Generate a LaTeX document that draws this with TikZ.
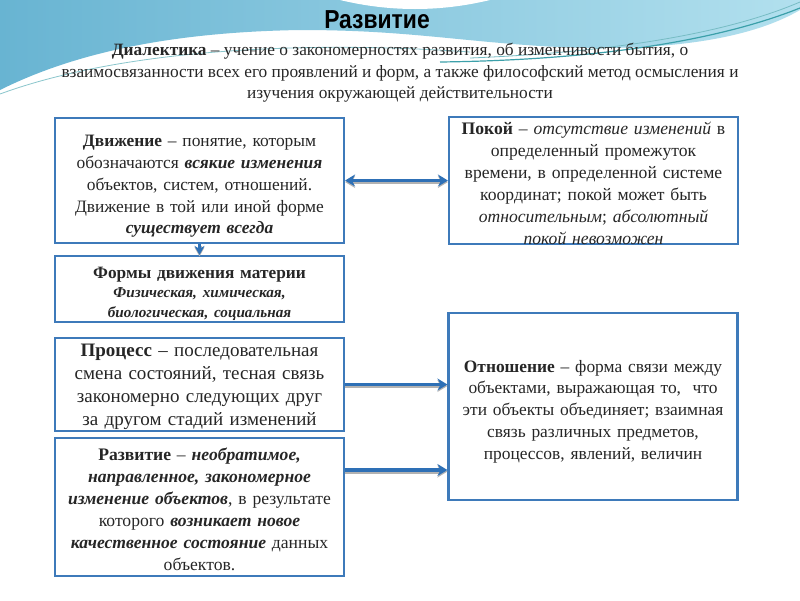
\documentclass[tikz,border=0pt]{standalone}
\usepackage{fontspec}
\setmainfont{Liberation Serif}
\newfontfamily\titlefont{Liberation Sans}
\usepackage{graphicx}
\usepackage{tikz}
\usetikzlibrary{arrows.meta, positioning, calc}
\usepackage{xcolor}
\definecolor{boxblue}{RGB}{62,122,186}
\definecolor{arrblue}{RGB}{46,112,182}
\definecolor{skyA}{RGB}{104,180,210}
\definecolor{skyB}{RGB}{178,224,238}
\definecolor{swoosh}{RGB}{60,160,170}

\begin{document}
\begin{tikzpicture}[
  x=1pt, y=-1pt,
  every node/.style={font=\fontsize{17.4}{21.8}\selectfont, text=black!85},
  box/.style={rectangle, draw=boxblue, line width=2.2pt, fill=white, minimum width=289pt},
  boxtext/.style={text width=283pt, align=center, inner sep=0pt},
  link/.style={draw=arrblue, line width=3.5pt, -{Stealth[length=10pt, width=12pt]},
               preaction={draw=black!30, line width=4pt, transform canvas={yshift=-1.5pt}}}
]
  \useasboundingbox (0,0) rectangle (800,600);
  \fill[white] (0,0) rectangle (800,600);
  % background swoosh
  \shade[left color=skyA, right color=skyB] (0,0) -- (800,0) -- (800,10)
    .. controls (740,45) and (640,52) .. (540,46)
    .. controls (450,40) and (400,30) .. (300,30)
    .. controls (180,32) and (80,50) .. (0,90) -- cycle;
  \fill[white] (340,0) .. controls (390,12) and (440,12) .. (490,0) -- cycle;
  \draw[swoosh!60, line width=0.8pt] (0,94) .. controls (120,50) and (300,40) .. (470,52);
  \draw[swoosh, line width=1.2pt] (440,62) .. controls (600,60) and (720,40) .. (800,8);
  \draw[swoosh!70, line width=0.8pt] (470,58) .. controls (620,52) and (730,32) .. (800,2);

  \node[font=\titlefont\bfseries\fontsize{26}{30}\selectfont, text=black] (title) at (377,20) {\scalebox{0.88}[1]{Развитие}};
  \node[align=center, font=\fontsize{17.3}{21.5}\selectfont] (intro) at (400,73)
    {\textbf{Диалектика} – учение о закономерностях развития, об изменчивости бытия, о\\
     взаимосвязанности всех его проявлений и форм, а также философский метод осмысления и\\
     изучения окружающей действительности};

  % boxes
  \node[box, minimum height=125pt] (dvizh) at (199.5,180.5) {};
  \node[box, minimum height=66pt]  (formy) at (199.5,289)   {};
  \node[box, minimum height=93pt]  (proc)  at (199.5,384.5) {};
  \node[box, minimum height=138pt] (razv)  at (199.5,507)   {};
  \node[box, minimum height=127pt] (pokoy) at (593.5,180.5) {};
  \node[box, minimum height=187pt] (otn)   at (593,406.5)   {};

  % texts
  \node[boxtext] (dvizhtext) at (199.5,186.5)
    {\textbf{Движение} – понятие, которым\\
     обозначаются \textbf{\textit{всякие изменения}}\\
     объектов, систем, отношений.\\
     Движение в той или иной форме\\
     \textbf{\textit{существует всегда}}};
  \node[boxtext, font=\fontsize{17.3}{20}\selectfont] (formytext) at (199.5,293.5)
    {\textbf{Формы движения материи}\\
     {\fontsize{15.2}{19}\selectfont\bfseries\itshape Физическая, химическая,\\
     биологическая, социальная}};
  \node[boxtext, font=\fontsize{19}{23}\selectfont] (proctext) at (199.5,386.5)
    {\textbf{Процесс} – последовательная\\
     смена состояний, тесная связь\\
     закономерно следующих друг\\
     за другом стадий изменений};
  \node[boxtext, font=\fontsize{17.6}{22}\selectfont] (razvtext) at (199.5,509.5)
    {\textbf{Развитие} – \textbf{\textit{необратимое,}}\\
     \textbf{\textit{направленное, закономерное}}\\
     \textbf{\textit{изменение объектов}}, в результате\\
     которого \textbf{\textit{возникает новое}}\\
     \textbf{\textit{качественное состояние}} данных\\
     объектов.};
  \node[boxtext, font=\fontsize{17.6}{22}\selectfont] (pokoytext) at (593.5,183.5)
    {\textbf{Покой} – \textit{отсутствие изменений} в\\
     определенный промежуток\\
     времени, в определенной системе\\
     координат; покой может быть\\
     \textit{относительным}; \textit{абсолютный}\\
     \textit{покой невозможен}};
  \node[boxtext] (otntext) at (593,411.5)
    {\textbf{Отношение} – форма связи между\\
     объектами, выражающая то,~ что\\
     эти объекты объединяет; взаимная\\
     связь различных предметов,\\
     процессов, явлений, величин};

  \draw[link, {Stealth[length=10pt, width=12pt]}-{Stealth[length=10pt, width=12pt]}] (dvizh) -- (pokoy);
  \draw[link, -{Stealth[length=9pt, width=10pt]}] (dvizh) -- (formy);
  \draw[link] (proc.east) -- (proc.east -| otn.west);
  \draw[link] ([yshift=37pt]razv.east) -- ([yshift=37pt]razv.east -| otn.west);
\end{tikzpicture}
\end{document}
